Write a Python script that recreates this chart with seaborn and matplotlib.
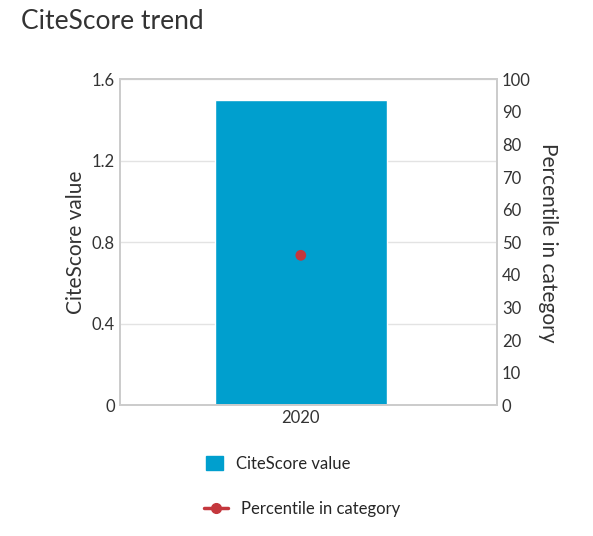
import seaborn as sns
import matplotlib.pyplot as plt
import pandas as pd
from matplotlib.lines import Line2D
from matplotlib.patches import Patch

years = ["2020"]
citescore = [1.5]
percentile = [46]

BAR_COLOR = "#009fce"
DOT_COLOR = "#c4373d"
TEXT_COLOR = "#333333"

sns.set_theme(style="white")
plt.rcParams["font.family"] = ["Lato", "DejaVu Sans"]

df = pd.DataFrame({"year": years, "citescore": citescore, "percentile": percentile})

fig = plt.figure(figsize=(5.93, 5.36), dpi=100)
ax = fig.add_axes([0.202, 0.244, 0.636, 0.608])
sns.barplot(data=df, x="year", y="citescore", color=BAR_COLOR, width=0.456,
            saturation=1, ax=ax)
ax.set_xlim(-0.48, 0.52)
ax.set_ylim(0, 1.6)
ax.set_yticks([0, 0.4, 0.8, 1.2, 1.6])
ax.set_yticklabels(["0", "0.4", "0.8", "1.2", "1.6"])
ax.yaxis.grid(True, color="#e3e3e3", linewidth=1)
ax.set_axisbelow(True)
ax.set_xlabel("")
ax.set_ylabel("CiteScore value", fontsize=15, color=TEXT_COLOR)
ax.tick_params(labelsize=12, colors=TEXT_COLOR, length=0)
for s in ax.spines.values():
    s.set_color("#cccccc")

ax2 = ax.twinx()
sns.scatterplot(data=df, x="year", y="percentile", color=DOT_COLOR, s=60,
                edgecolor="none", ax=ax2, zorder=5)
ax2.set_ylim(0, 100)
ax2.set_yticks(range(0, 101, 10))
ax2.set_ylabel("Percentile in category", fontsize=15, color=TEXT_COLOR,
               rotation=270, labelpad=20)
ax2.tick_params(labelsize=12, colors=TEXT_COLOR, length=0)
for s in ax2.spines.values():
    s.set_color("#cccccc")

fig.text(0.035, 0.945, "CiteScore trend", fontsize=19, color=TEXT_COLOR)

h1 = [Patch(color=BAR_COLOR)]
h2 = [Line2D([], [], color=DOT_COLOR, marker="o", markersize=7, linewidth=2.5)]
fig.legend(h1, ["CiteScore value"], loc="center", bbox_to_anchor=(0.47, 0.135),
           frameon=False, fontsize=12, handlelength=1.0, handleheight=1.0)
fig.legend(h2, ["Percentile in category"], loc="center", bbox_to_anchor=(0.51, 0.05),
           frameon=False, fontsize=12, handlelength=1.4)

fig.savefig("out.png", dpi=100)
